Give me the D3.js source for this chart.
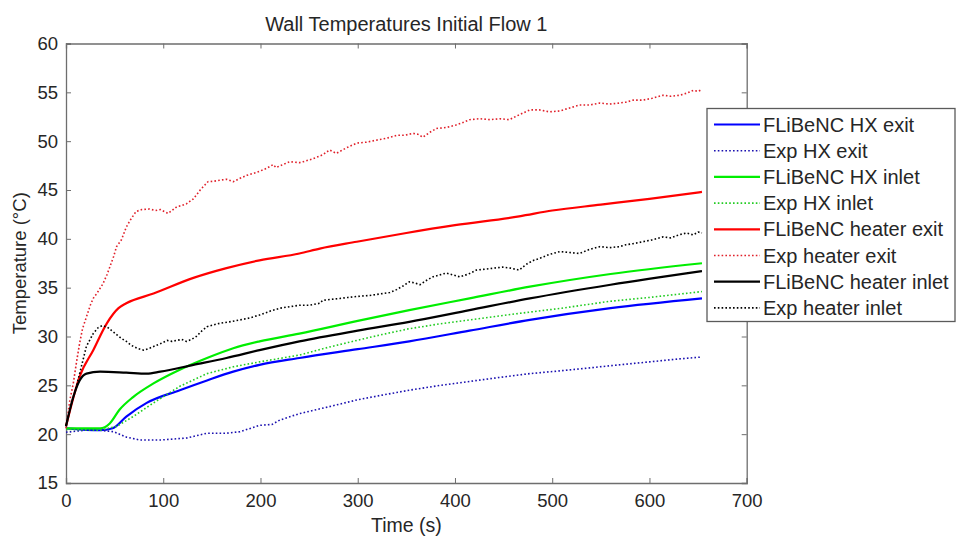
<!DOCTYPE html>
<html><head><meta charset="utf-8">
<script src="https://cdn.jsdelivr.net/npm/d3@7"></script>
<style>
body{margin:0;background:#fff;}
text{font-family:"Liberation Sans",Arial,sans-serif;fill:#262626;}
</style></head>
<body><svg id="c" width="957" height="541"></svg>
<script>
const title = "Wall Temperatures Initial Flow 1";
const xLabel = "Time (s)";
const yLabel = "Temperature (°C)";
const xTicks = [0,100,200,300,400,500,600,700];
const yTicks = [15,20,25,30,35,40,45,50,55,60];

// [time, temperature]
const modelHxExit = [[0,20.6],[35,20.4],[48,20.6],[62,21.8],[83,23.2],[117,24.5],[145,25.5],[172,26.4],[199,27.1],[240,27.8],[300,28.7],[353,29.5],[415,30.6],[477,31.7],[560,32.9],[654,33.9]];
const expHxExit = [[0,20.2],[20,20.4],[35,20.4],[49,20.25],[62,19.7],[76,19.4],[97,19.4],[110,19.5],[124,19.6],[145,20.1],[165,20.1],[179,20.25],[199,20.9],[212,21.0],[220,21.45],[240,22.1],[270,22.8],[299,23.5],[325,24.0],[353,24.5],[385,25.0],[415,25.4],[445,25.8],[477,26.2],[510,26.5],[540,26.8],[559,27.0],[600,27.4],[630,27.7],[654,27.9]];
const modelHxInlet = [[0,20.6],[35,20.6],[45,21.1],[55,22.5],[69,23.8],[90,25.2],[117,26.6],[145,27.8],[172,28.8],[199,29.5],[240,30.3],[300,31.6],[353,32.7],[415,33.9],[477,35.1],[560,36.4],[654,37.5]];
const expHxInlet = [[0,20.5],[35,20.4],[52,20.8],[69,21.8],[90,23.2],[117,24.9],[145,26.2],[172,26.9],[199,27.4],[240,28.1],[270,28.9],[299,29.6],[325,30.2],[353,30.8],[385,31.3],[415,31.7],[445,32.1],[477,32.5],[510,32.9],[559,33.6],[600,34.0],[654,34.6]];
const modelHeaterExit = [[0,20.8],[14,25.9],[28,28.6],[42,31.35],[54,32.9],[62,33.4],[90,34.4],[131,36.0],[165,37.0],[199,37.8],[240,38.5],[261,39.0],[299,39.7],[350,40.6],[400,41.4],[466,42.3],[500,42.9],[550,43.5],[600,44.1],[654,44.8]];
const expHeaterExit = [[0,20.6],[4,23.5],[7.5,25.2],[11,27.5],[14,29.3],[17,30.8],[21,32.0],[25,33.2],[28,33.9],[33,34.6],[38,35.4],[42,36.3],[45,37.1],[49,38.2],[52,39.2],[57,39.9],[62,41.2],[66,41.9],[72,42.8],[78,43.0],[86,43.05],[92,42.9],[97,43.0],[101,42.8],[105,42.6],[109,42.9],[114,43.3],[119,43.4],[124,43.6],[131,44.1],[138,45.0],[146,45.85],[152,45.9],[158,46.0],[165,46.1],[172,45.85],[179,46.2],[186,46.5],[196,46.8],[206,47.2],[213,47.6],[216,47.3],[223,47.6],[230,47.9],[240,47.8],[244,47.9],[254,48.2],[264,48.6],[271,49.1],[278,48.75],[288,49.3],[299,49.8],[309,49.9],[319,50.1],[330,50.3],[340,50.6],[348,50.6],[357,50.8],[362,50.7],[367,50.4],[374,50.9],[381,51.3],[391,51.4],[401,51.65],[408,51.9],[415,52.2],[425,52.3],[436,52.2],[446,52.3],[456,52.2],[466,52.7],[477,53.2],[487,53.2],[497,53.0],[508,53.1],[518,53.4],[528,53.7],[538,53.7],[549,53.9],[559,53.8],[569,53.9],[576,54.0],[583,54.2],[593,54.2],[603,54.4],[614,54.7],[622,54.6],[631,54.7],[638,54.9],[645,55.2],[650,55.1],[654,55.3]];
const modelHeaterInlet = [[0,20.8],[7.5,23.8],[14,25.5],[21,26.2],[35,26.4],[62,26.3],[83,26.2],[97,26.4],[131,27.1],[165,27.8],[199,28.6],[240,29.5],[300,30.6],[353,31.5],[415,32.7],[477,33.9],[560,35.3],[654,36.7]];
const expHeaterInlet = [[0,20.9],[4,22.5],[7.5,23.8],[11,25.0],[14,26.2],[18,27.8],[21,29.0],[28,30.3],[33,30.9],[37,31.1],[42,31.0],[47,30.6],[52,30.2],[57,29.8],[62,29.5],[67,29.1],[73,28.8],[80,28.6],[86,28.8],[93,29.1],[98,29.3],[104,29.6],[109,29.5],[114,29.6],[119,29.7],[124,29.5],[129,29.7],[134,30.0],[140,30.6],[145,31.0],[152,31.2],[158,31.35],[168,31.5],[179,31.7],[189,31.9],[199,32.2],[210,32.6],[220,32.9],[230,33.05],[240,33.2],[250,33.2],[261,33.4],[264,33.7],[272,33.8],[282,33.9],[290,34.0],[299,34.1],[312,34.2],[326,34.4],[333,34.5],[340,34.8],[347,35.2],[353,35.6],[358,35.5],[364,35.3],[370,35.7],[377,36.1],[384,36.3],[391,36.5],[398,36.3],[405,36.1],[414,36.4],[422,36.8],[432,36.9],[440,37.0],[449,37.1],[457,37.0],[466,36.8],[471,37.2],[475,37.5],[481,37.8],[487,38.0],[497,38.4],[508,38.7],[518,38.6],[528,38.5],[538,38.9],[549,39.2],[559,39.1],[569,39.2],[576,39.4],[583,39.5],[593,39.7],[603,39.9],[614,40.2],[622,40.1],[630,40.4],[638,40.6],[645,40.4],[650,40.7],[654,40.6]];

const seriesNames = ["FLiBeNC HX exit","Exp HX exit","FLiBeNC HX inlet","Exp HX inlet","FLiBeNC heater exit","Exp heater exit","FLiBeNC heater inlet","Exp heater inlet"];
const seriesData = [modelHxExit, expHxExit, modelHxInlet, expHxInlet, modelHeaterExit, expHeaterExit, modelHeaterInlet, expHeaterInlet];
const seriesColors = ["#0000ff","#1a10b0","#00ee00","#22cc22","#ff0000","#e0202a","#000000","#000000"];
const seriesDotted = [false,true,false,true,false,true,false,true];

const svg = d3.select("#c");
const L = 66, R = 746.7, T = 43.5, B = 483;
const x = d3.scaleLinear().domain([0,700]).range([L,R]);
const y = d3.scaleLinear().domain([15,60]).range([B,T]);

svg.append("rect").attr("x",L).attr("y",T).attr("width",R-L).attr("height",B-T).attr("fill","#fff");

const axisColor = "#6e6e6e";
const gx = svg.append("g").attr("transform",`translate(0,${B})`)
  .call(d3.axisBottom(x).tickValues(xTicks).tickSize(-5).tickPadding(11));
const gy = svg.append("g").attr("transform",`translate(${L},0)`)
  .call(d3.axisLeft(y).tickValues(yTicks).tickSize(-5).tickPadding(8));
const gt = svg.append("g").attr("transform",`translate(0,${T})`)
  .call(d3.axisTop(x).tickValues(xTicks).tickSize(-5).tickFormat(""));
const gr = svg.append("g").attr("transform",`translate(${R},0)`)
  .call(d3.axisRight(y).tickValues(yTicks).tickSize(-5).tickFormat(""));
[gx,gy,gt,gr].forEach(g=>{
  g.select(".domain").attr("stroke",axisColor).attr("stroke-width",1.3);
  g.selectAll(".tick line").attr("stroke",axisColor);
  g.selectAll(".tick text").attr("font-size",18.5).attr("fill","#262626").attr("font-family","Liberation Sans, Arial, sans-serif");
});

const lineSmooth = d3.line().x(d=>x(d[0])).y(d=>y(d[1])).curve(d3.curveMonotoneX);
const lineRaw = d3.line().x(d=>x(d[0])).y(d=>y(d[1]));
seriesData.forEach((data,i)=>{
  svg.append("path").datum(data).attr("d",seriesDotted[i]?lineRaw:lineSmooth).attr("fill","none")
    .attr("stroke",seriesColors[i])
    .attr("stroke-width",seriesDotted[i]?1.6:2.2)
    .attr("stroke-dasharray",seriesDotted[i]?"1.6,2.2":null)
    .attr("stroke-linejoin","round");
});

svg.append("text").attr("x",(L+R)/2).attr("y",31).attr("text-anchor","middle").attr("font-size",20).text(title);
svg.append("text").attr("x",(L+R)/2).attr("y",532).attr("text-anchor","middle").attr("font-size",19.5).text(xLabel);
svg.append("text").attr("transform",`translate(26,${(T+B)/2}) rotate(-90)`).attr("text-anchor","middle").attr("font-size",18.5).text(yLabel);

const lg = svg.append("g");
const lx = 707, ly = 108.5, lw = 248, lh = 213;
lg.append("rect").attr("x",lx).attr("y",ly).attr("width",lw).attr("height",lh).attr("fill","#fff").attr("stroke","#5a5a5a").attr("stroke-width",1.3);
seriesNames.forEach((name,i)=>{
  const yy = 124.5 + i*26.2;
  lg.append("line").attr("x1",714).attr("x2",760).attr("y1",yy).attr("y2",yy)
    .attr("stroke",seriesColors[i]).attr("stroke-width",seriesDotted[i]?1.6:2.2)
    .attr("stroke-dasharray",seriesDotted[i]?"1.6,2.2":null);
  lg.append("text").attr("x",763).attr("y",yy+7).attr("font-size",20).text(name);
});
</script></body></html>
